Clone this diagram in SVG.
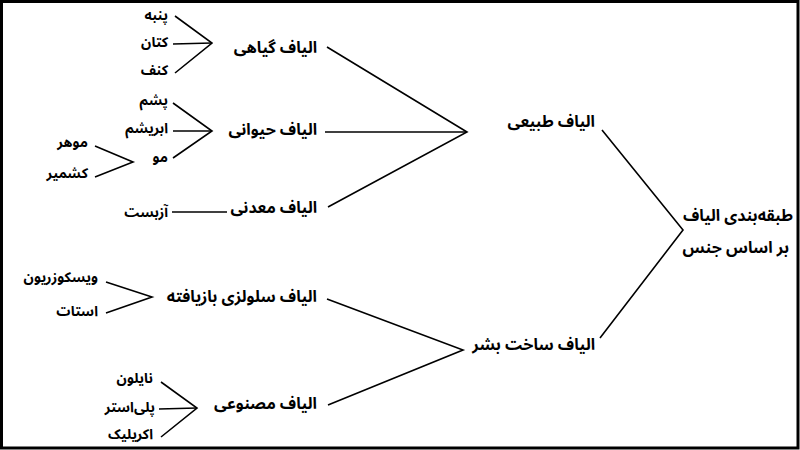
<svg xmlns="http://www.w3.org/2000/svg" width="800" height="450" viewBox="0 0 800 450">
<style>
text{font-family:"Noto Sans Arabic","Noto Naskh Arabic","Noto Sans","DejaVu Sans",sans-serif;font-weight:bold;font-size:14px;fill:#000;text-anchor:end}
text.h{font-size:16px}
.c line,.c polyline{stroke:#000;stroke-width:1.6;fill:none}
</style>
<rect x="1.5" y="1.5" width="796.5" height="446.5" fill="#fff" stroke="#000" stroke-width="3"/>
<g class="c" id="connectors">
<polyline points="175,16 212,43 175,73"/>
<line x1="173" y1="44" x2="212" y2="43"/>
<polyline points="173,103 212,131 173,158"/>
<line x1="173" y1="131" x2="212" y2="131"/>
<polyline points="95,146 133,162 95,177"/>
<line x1="172" y1="212" x2="227" y2="212"/>
<polyline points="327,47 467,132 328,207"/>
<line x1="325" y1="132" x2="467" y2="132"/>
<polyline points="106,282 152,297 106,313"/>
<polyline points="161,382 197,408 161,437"/>
<line x1="159" y1="409" x2="197" y2="408"/>
<polyline points="327,299 463,350 328,405"/>
<polyline points="602,130 683,230 600,338"/>
</g>
<g id="n-root"><text class="h" x="793" y="221">طبقه&#x200C;بندی الیاف</text><text class="h" x="789" y="253">بر اساس جنس</text></g>
<g id="n-natural"><text class="h" x="595" y="127">الیاف طبیعی</text></g>
<g id="n-manmade"><text class="h" x="595" y="350">الیاف ساخت بشر</text></g>
<g id="n-plant"><text class="h" x="317" y="53">الیاف گیاهی</text></g>
<g id="n-animal"><text class="h" x="317" y="135">الیاف حیوانی</text></g>
<g id="n-mineral"><text class="h" x="317" y="213">الیاف معدنی</text></g>
<g id="n-regen"><text class="h" x="317" y="302">الیاف سلولزی بازیافته</text></g>
<g id="n-synth"><text class="h" x="317" y="409">الیاف مصنوعی</text></g>
<g id="n-cotton"><text x="168" y="20">پنبه</text></g>
<g id="n-linen"><text x="168" y="47">کتان</text></g>
<g id="n-hemp"><text x="168" y="75">کنف</text></g>
<g id="n-wool"><text x="168" y="105">پشم</text></g>
<g id="n-silk"><text x="168" y="133">ابریشم</text></g>
<g id="n-hair"><text x="168" y="162">مو</text></g>
<g id="n-mohair"><text x="88" y="147">موهر</text></g>
<g id="n-cashmere"><text x="88" y="178">کشمیر</text></g>
<g id="n-asbestos"><text x="168" y="217">آزبست</text></g>
<g id="n-viscose"><text x="98" y="282">ویسکوزریون</text></g>
<g id="n-acetate"><text x="98" y="316">استات</text></g>
<g id="n-nylon"><text x="153" y="383">نایلون</text></g>
<g id="n-polyester"><text x="155" y="412">پلی&#x200C;استر</text></g>
<g id="n-acrylic"><text x="153" y="439">اکریلیک</text></g>
</svg>
